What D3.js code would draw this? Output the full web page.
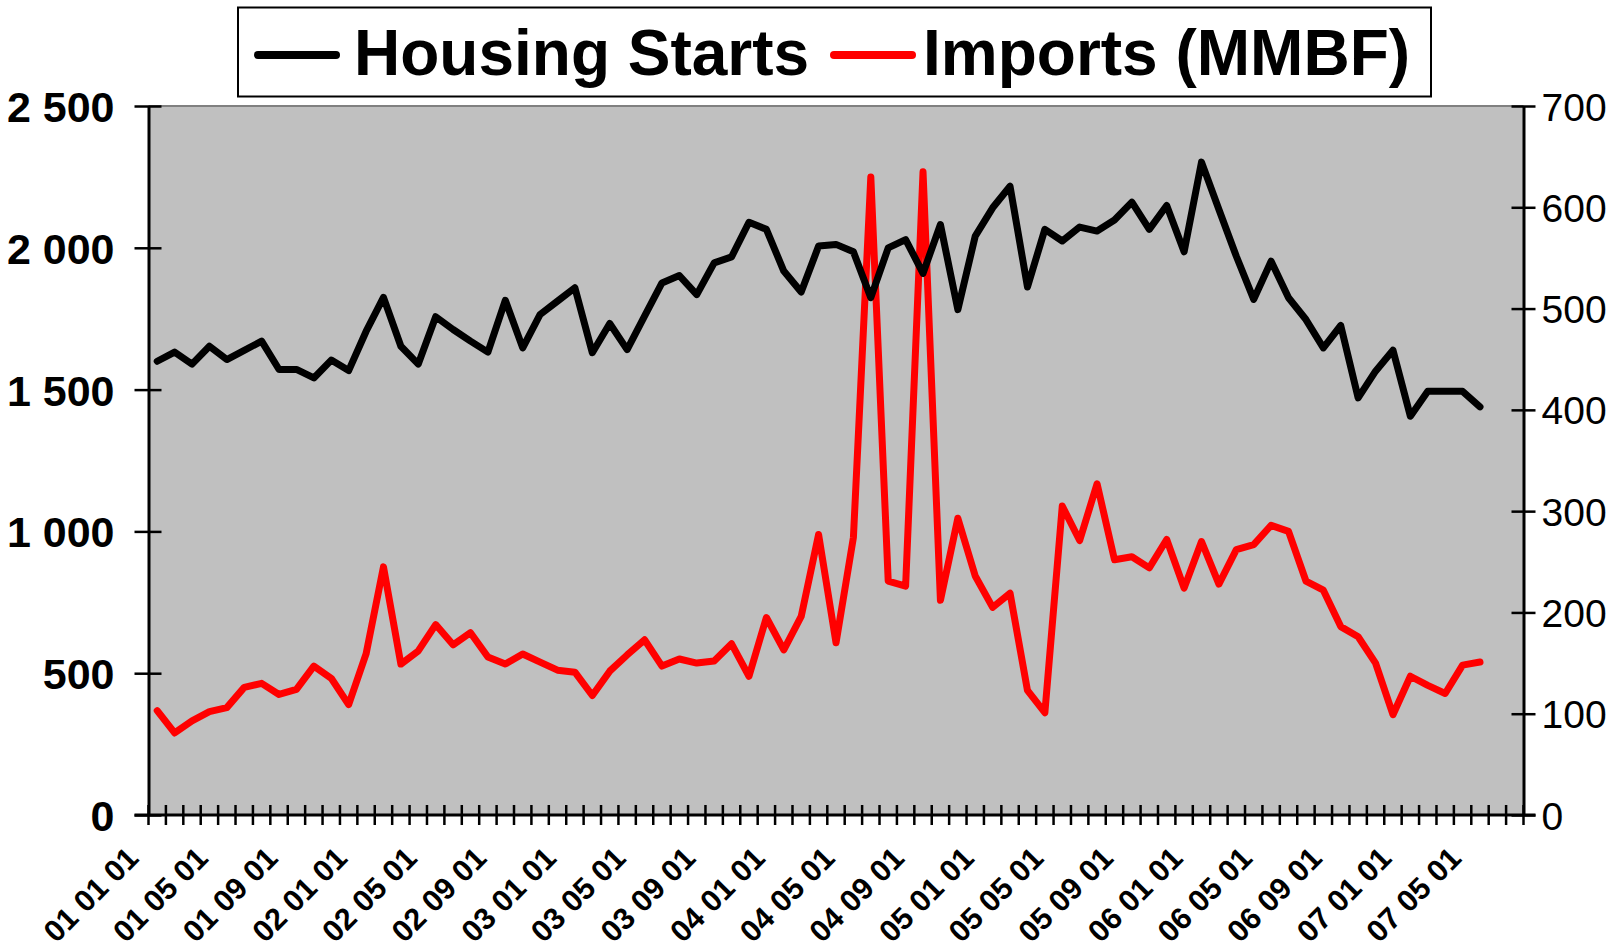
<!DOCTYPE html>
<html>
<head>
<meta charset="utf-8">
<script src="https://cdn.jsdelivr.net/npm/d3@7"></script>
<style>
    body { margin: 0; background: #ffffff; }
    svg { display: block; font-family: "Liberation Sans", Arial, sans-serif; }
</style>
</head>
<body>
<svg id="chart" width="1622" height="952"></svg>
<script>
// months on the x axis (yy mm dd)
const categories = [
    "01 01 01", "01 02 01", "01 03 01", "01 04 01", "01 05 01", "01 06 01", "01 07 01", "01 08 01", "01 09 01", "01 10 01", "01 11 01", "01 12 01",
    "02 01 01", "02 02 01", "02 03 01", "02 04 01", "02 05 01", "02 06 01", "02 07 01", "02 08 01", "02 09 01", "02 10 01", "02 11 01", "02 12 01",
    "03 01 01", "03 02 01", "03 03 01", "03 04 01", "03 05 01", "03 06 01", "03 07 01", "03 08 01", "03 09 01", "03 10 01", "03 11 01", "03 12 01",
    "04 01 01", "04 02 01", "04 03 01", "04 04 01", "04 05 01", "04 06 01", "04 07 01", "04 08 01", "04 09 01", "04 10 01", "04 11 01", "04 12 01",
    "05 01 01", "05 02 01", "05 03 01", "05 04 01", "05 05 01", "05 06 01", "05 07 01", "05 08 01", "05 09 01", "05 10 01", "05 11 01", "05 12 01",
    "06 01 01", "06 02 01", "06 03 01", "06 04 01", "06 05 01", "06 06 01", "06 07 01", "06 08 01", "06 09 01", "06 10 01", "06 11 01", "06 12 01",
    "07 01 01", "07 02 01", "07 03 01", "07 04 01", "07 05 01", "07 06 01", "07 07 01"];

// only every 4th month gets a label
const labelledMonths = ["01 01 01", "01 05 01", "01 09 01", "02 01 01", "02 05 01", "02 09 01", "03 01 01", "03 05 01", "03 09 01",
    "04 01 01", "04 05 01", "04 09 01", "05 01 01", "05 05 01", "05 09 01", "06 01 01", "06 05 01", "06 09 01", "07 01 01", "07 05 01"];

const housingStarts = [1600, 1632, 1590, 1653, 1606, 1638, 1671, 1571, 1571, 1541, 1604, 1567,
    1705, 1825, 1653, 1590, 1757, 1712, 1671, 1632, 1815, 1647, 1765, 1812,
    1859, 1630, 1733, 1641, 1759, 1876, 1902, 1835, 1947, 1968, 2090, 2065,
    1918, 1844, 2006, 2012, 1986, 1824, 2000, 2029, 1910, 2082, 1782, 2041,
    2141, 2217, 1862, 2065, 2024, 2073, 2059, 2098, 2161, 2065, 2149, 1986,
    2302, 2135, 1970, 1818, 1953, 1824, 1747, 1647, 1726, 1471, 1565, 1639,
    1406, 1494, 1494, 1494, 1439];

const imports = [103, 81, 93, 102, 106, 126, 130, 119, 124, 147, 135, 109,
    159, 245, 149, 162, 188, 168, 180, 156, 149, 159, 151, 143,
    141, 118, 142, 158, 173, 147, 154, 150, 152, 169, 137, 195,
    163, 196, 277, 170, 274, 630, 231, 226, 635, 212, 293, 236,
    205, 219, 123, 101, 305, 271, 327, 252, 255, 244, 272, 224,
    270, 228, 262, 267, 286, 280, 231, 222, 186, 176, 150, 99,
    137, 128, 120, 148, 151];

const leftTicks = [0, 500, 1000, 1500, 2000, 2500];
const leftTickLabels = ["0", "500", "1 000", "1 500", "2 000", "2 500"];
const rightTicks = [0, 100, 200, 300, 400, 500, 600, 700];
const rightTickLabels = ["0", "100", "200", "300", "400", "500", "600", "700"];

const seriesNames = ["Housing Starts", "Imports (MMBF)"];
const seriesColors = ["#000000", "#ff0000"];

var plotLeft = 148.5, plotRight = 1523.5, plotTop = 106, plotBottom = 815;

const svg = d3.select("#chart");

var x = d3.scaleBand()
    .domain(categories)
    .range([plotLeft, plotRight])
    .padding(0);
var yLeft = d3.scaleLinear().domain([0, 2500]).range([plotBottom, plotTop]);
var yRight = d3.scaleLinear().domain([0, 700]).range([plotBottom, plotTop]);

// plot area
svg.append("rect")
    .attr("x", plotLeft)
    .attr("y", plotTop)
    .attr("width", plotRight - plotLeft)
    .attr("height", plotBottom - plotTop)
    .attr("fill", "#c0c0c0");
svg.append("line")
    .attr("x1", plotLeft).attr("x2", plotRight)
    .attr("y1", plotTop).attr("y2", plotTop)
    .attr("stroke", "#808080")
    .attr("stroke-width", 2);

// left axis
var leftAxis = svg.append("g")
    .attr("transform", "translate(" + plotLeft + ",0)")
    .call(d3.axisLeft(yLeft).tickValues(leftTicks).tickFormat((d, i) => leftTickLabels[i]).tickSizeOuter(0));
leftAxis.select(".domain").attr("stroke", "#000").attr("stroke-width", 3);
leftAxis.selectAll(".tick line").attr("x1", 13).attr("x2", -14).attr("stroke", "#000").attr("stroke-width", 2.5);
leftAxis.selectAll(".tick text")
    .attr("x", -34)
    .attr("dy", "0.36em")
    .attr("font-family", "Liberation Sans, Arial, sans-serif")
    .attr("font-size", 43)
    .attr("font-weight", "bold")
    .attr("fill", "#000");

// right axis
var rightAxis = svg.append("g")
    .attr("transform", "translate(" + plotRight + ",0)")
    .call(d3.axisRight(yRight).tickValues(rightTicks).tickFormat((d, i) => rightTickLabels[i]).tickSizeOuter(0));
rightAxis.select(".domain").attr("stroke", "#000").attr("stroke-width", 3);
rightAxis.selectAll(".tick line").attr("x1", -12).attr("x2", 12).attr("stroke", "#000").attr("stroke-width", 2.5);
rightAxis.selectAll(".tick text")
    .attr("x", 18)
    .attr("dy", "0.36em")
    .attr("font-family", "Liberation Sans, Arial, sans-serif")
    .attr("font-size", 39)
    .attr("fill", "#000");

// bottom axis: ticks on month boundaries, crossing the line
var bottom = svg.append("g");
bottom.append("line")
    .attr("x1", plotLeft - 14).attr("x2", plotRight + 12)
    .attr("y1", plotBottom).attr("y2", plotBottom)
    .attr("stroke", "#000")
    .attr("stroke-width", 3);
bottom.selectAll(".xtick")
    .data(categories)
    .enter().append("line")
    .attr("class", "xtick")
    .attr("x1", d => x(d)).attr("x2", d => x(d))
    .attr("y1", plotBottom - 10).attr("y2", plotBottom + 10)
    .attr("stroke", "#000")
    .attr("stroke-width", 2.5);
bottom.append("line")
    .attr("x1", plotRight).attr("x2", plotRight)
    .attr("y1", plotBottom - 10).attr("y2", plotBottom + 10)
    .attr("stroke", "#000")
    .attr("stroke-width", 2.5);

bottom.selectAll(".xlabel")
    .data(labelledMonths)
    .enter().append("text")
    .attr("class", "xlabel")
    .attr("text-anchor", "end")
    .attr("font-size", 30.5)
    .attr("font-weight", "bold")
    .attr("transform", d => "translate(" + (x(d) + x.bandwidth() / 2 - 17) + "," + 860 + ") rotate(-45)")
    .text(d => d);

// series lines
var cx = (d, i) => x(categories[i]) + x.bandwidth() / 2;
var lineLeft = d3.line().x(cx).y(d => yLeft(d));
var lineRight = d3.line().x(cx).y(d => yRight(d));

svg.append("path")
    .datum(imports)
    .attr("d", lineRight)
    .attr("fill", "none")
    .attr("stroke", seriesColors[1])
    .attr("stroke-width", 7)
    .attr("stroke-linejoin", "round")
    .attr("stroke-linecap", "round");

svg.append("path")
    .datum(housingStarts)
    .attr("d", lineLeft)
    .attr("fill", "none")
    .attr("stroke", seriesColors[0])
    .attr("stroke-width", 7)
    .attr("stroke-linejoin", "round")
    .attr("stroke-linecap", "round");

// legend
var legend = svg.append("g");
legend.append("rect")
    .attr("x", 238).attr("y", 7.5)
    .attr("width", 1193).attr("height", 89)
    .attr("fill", "#fff")
    .attr("stroke", "#000")
    .attr("stroke-width", 2);

var legendLineX = [258, 834];
var legendTextX = [354, 923];
seriesNames.forEach(function(name, i) {
    legend.append("line")
        .attr("x1", legendLineX[i]).attr("x2", legendLineX[i] + 78)
        .attr("y1", 55).attr("y2", 55)
        .attr("stroke", seriesColors[i])
        .attr("stroke-width", 8)
        .attr("stroke-linecap", "round");
    legend.append("text")
        .attr("x", legendTextX[i])
        .attr("y", 75)
        .attr("font-size", 64)
        .attr("font-weight", "bold")
        .attr("fill", "#000")
        .text(name);
});
</script>
</body>
</html>
